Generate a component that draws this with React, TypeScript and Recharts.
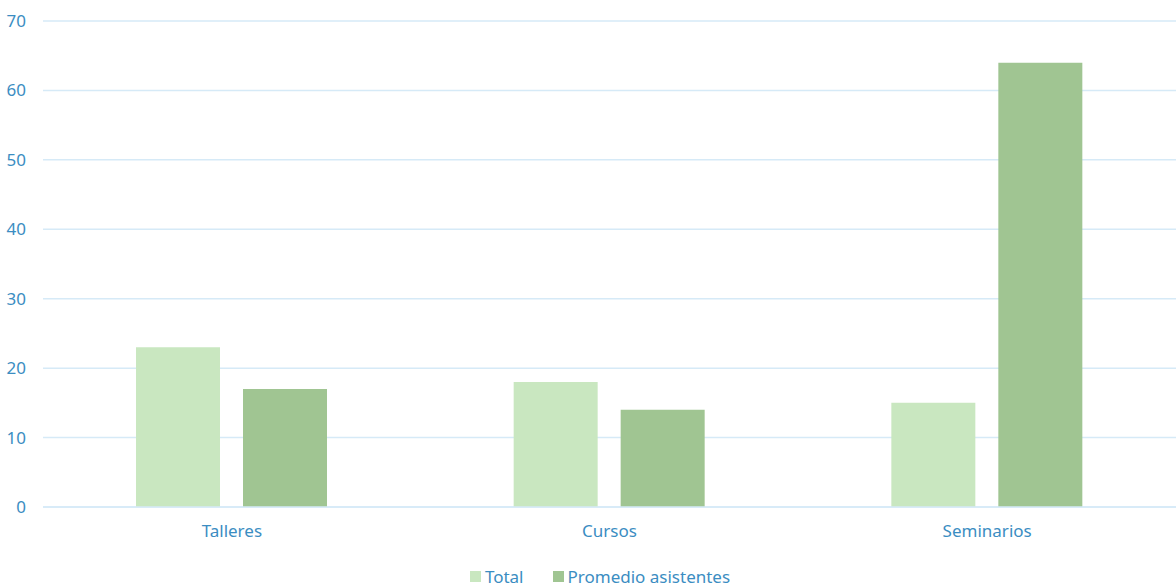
import { BarChart, Bar, XAxis, YAxis, CartesianGrid, Legend } from 'recharts';

// categories and values
const categories = ['Talleres', 'Cursos', 'Seminarios'];
const totalValues = [23, 18, 15];
const promedioValues = [17, 14, 64];
const yTicks = [0, 10, 20, 30, 40, 50, 60, 70];

const seriesNames = ['Total', 'Promedio asistentes'];
const seriesColors = ['#C9E7C0', '#A0C592'];

const data = categories.map((name, i) => ({
    name,
    total: totalValues[i],
    promedio: promedioValues[i],
}));

const textColor = '#3B8DC2';
const gridColor = '#D6EAF7';
const font = '"Noto Sans", sans-serif';

function LegendRow() {
    return (
        <div
            style={{
                display: 'flex',
                justifyContent: 'center',
                alignItems: 'center',
                gap: 29,
                paddingTop: 13,
                paddingLeft: 24,
                fontFamily: font,
                fontSize: 17,
                color: textColor,
            }}
        >
            {seriesNames.map((s, i) => (
                <span key={s} style={{ display: 'flex', alignItems: 'center' }}>
                    <span
                        style={{
                            width: 11,
                            height: 11,
                            background: seriesColors[i],
                            marginRight: 4,
                            display: 'inline-block',
                        }}
                    />
                    {s}
                </span>
            ))}
        </div>
    );
}

export default function App() {
    return (
        <div style={{ position: 'absolute', left: 0, top: 0, background: '#fff' }}>
            <BarChart
                width={1176}
                height={586}
                data={data}
                margin={{ top: 21, right: 0, bottom: 0, left: 0 }}
                barCategoryGap={93}
                barGap={23}
            >
                <CartesianGrid vertical={false} stroke={gridColor} strokeWidth={1.5} />
                <XAxis
                    dataKey="name"
                    height={45}
                    axisLine={{ stroke: gridColor, strokeWidth: 1.5 }}
                    tickLine={false}
                    tickSize={0}
                    tickMargin={18}
                    tick={{ fill: textColor, fontSize: 17, fontFamily: font }}
                />
                <YAxis
                    width={43}
                    domain={[0, 70]}
                    ticks={yTicks}
                    axisLine={false}
                    tickLine={false}
                    tickSize={0}
                    tickMargin={17}
                    tick={{ fill: textColor, fontSize: 17, fontFamily: font }}
                />
                <Legend verticalAlign="bottom" height={34} content={() => <LegendRow />} />
                <Bar dataKey="total" name={seriesNames[0]} fill={seriesColors[0]} isAnimationActive={false} />
                <Bar dataKey="promedio" name={seriesNames[1]} fill={seriesColors[1]} isAnimationActive={false} />
            </BarChart>
        </div>
    );
}
